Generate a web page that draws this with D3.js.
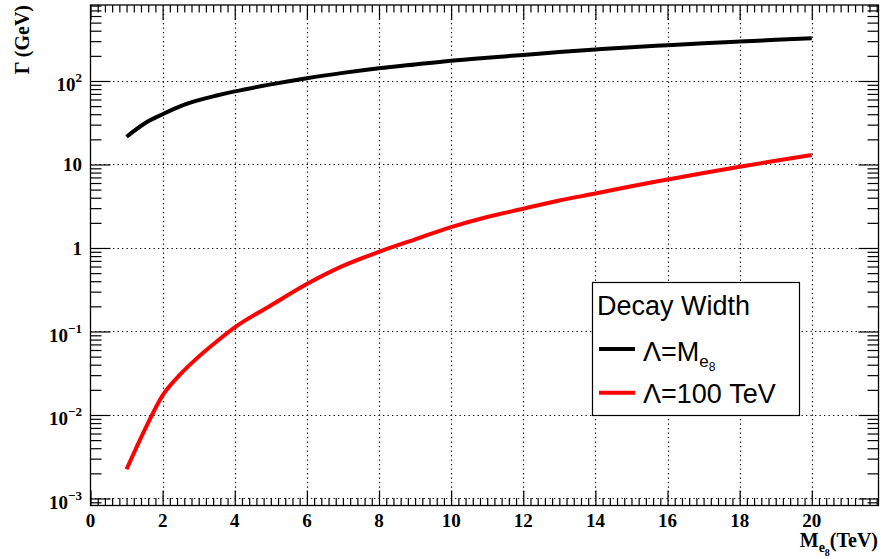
<!DOCTYPE html>
<html><head><meta charset="utf-8">
<script src="https://cdn.jsdelivr.net/npm/d3@7"></script>
<style>body{margin:0;background:#fff;} svg{display:block}</style>
</head><body>
<script>
// ---- data ----
const massTeV        = [1, 1.5, 2, 2.5, 3, 3.5, 4, 5, 6, 7, 8, 9, 10, 11, 12, 13, 14, 15, 16, 17, 18, 19, 20];
const widthLambdaM   = [21.5, 31, 40, 50, 59, 67, 75, 91, 108, 125, 142, 158, 175, 190, 205, 222, 238, 254, 268, 283, 297, 311, 324];
const widthLambda100 = [0.00224, 0.0066, 0.0172, 0.031, 0.050, 0.076, 0.112, 0.205, 0.37, 0.61, 0.90, 1.27, 1.78, 2.35, 2.95, 3.7, 4.5, 5.5, 6.6, 7.9, 9.4, 11.1, 13.0];
const seriesColors   = ["#000000", "#ff0000"];
const xMajorTicks = [0, 2, 4, 6, 8, 10, 12, 14, 16, 18, 20];
const xTickLabels = ["0", "2", "4", "6", "8", "10", "12", "14", "16", "18", "20"];
const yMajorTicks = [1e-3, 1e-2, 1e-1, 1, 10, 100];
const yTickBase   = ["10", "10", "10", "1", "10", "10"];
const yTickExp    = ["\u22123", "\u22122", "\u22121", "", "", "2"];
const legendTitle = "Decay Width";

// ---- layout ----
const W = 881, H = 559;
const L = 90.5, R = 878.5, T = 5, B = 505.5;
const svg = d3.select("body").append("svg").attr("width", W).attr("height", H);
svg.append("rect").attr("width", W).attr("height", H).attr("fill", "#fff");

const x = d3.scaleLinear().domain([0, 21.85]).range([L, R]);
const y = d3.scaleLog().domain([Math.pow(10, -3.084), Math.pow(10, 2.910)]).range([B, T]);

const xMinor = d3.range(0, 21.85, 0.2).filter(v => Math.abs(v / 2 - Math.round(v / 2)) > 1e-6);
const yMinor = [];
for (let e = -4; e <= 2; e++) for (let k = 2; k <= 9; k++) {
  const v = k * Math.pow(10, e);
  if (v >= y.domain()[0] && v <= y.domain()[1]) yMinor.push(v);
}

// ---- grid ----
const grid = svg.append("g").attr("stroke", "#000").attr("stroke-width", 1.2).attr("stroke-dasharray", "1.3,3.2");
grid.selectAll("line.gx").data(xMajorTicks.filter(v => v > 0)).join("line")
  .attr("x1", d => Math.round(x(d)) + 0.5).attr("x2", d => Math.round(x(d)) + 0.5)
  .attr("y1", T).attr("y2", B);
grid.selectAll("line.gy").data(yMajorTicks).join("line")
  .attr("y1", d => Math.round(y(d)) + 0.5).attr("y2", d => Math.round(y(d)) + 0.5)
  .attr("x1", L).attr("x2", R);

// ---- axes ticks (d3 axes, inward) ----
function tickAxis(axis, tx, ty) {
  const g = svg.append("g").attr("transform", `translate(${tx},${ty})`).call(axis);
  g.select(".domain").remove();
  g.selectAll("text").remove();
  g.selectAll("line").attr("stroke", "#000").attr("stroke-width", 1.2);
}
tickAxis(d3.axisTop(x).tickValues(xMajorTicks).tickSize(15).tickFormat(""), 0, B);
tickAxis(d3.axisTop(x).tickValues(xMinor).tickSize(7.5).tickFormat(""), 0, B);
tickAxis(d3.axisBottom(x).tickValues(xMajorTicks).tickSize(15).tickFormat(""), 0, T);
tickAxis(d3.axisBottom(x).tickValues(xMinor).tickSize(7.5).tickFormat(""), 0, T);
tickAxis(d3.axisRight(y).tickValues(yMajorTicks).tickSize(20).tickFormat(""), L, 0);
tickAxis(d3.axisRight(y).tickValues(yMinor).tickSize(11).tickFormat(""), L, 0);
tickAxis(d3.axisLeft(y).tickValues(yMajorTicks).tickSize(20).tickFormat(""), R, 0);
tickAxis(d3.axisLeft(y).tickValues(yMinor).tickSize(11).tickFormat(""), R, 0);

// ---- frame ----
svg.append("rect").attr("x", L).attr("y", T).attr("width", R - L).attr("height", B - T)
  .attr("fill", "none").attr("stroke", "#000").attr("stroke-width", 1.3);

// ---- curves ----
const line = d3.line().x(d => x(d[0])).y(d => y(d[1])).curve(d3.curveMonotoneX);
[widthLambdaM, widthLambda100].forEach((vals, i) => {
  svg.append("path").datum(massTeV.map((m, j) => [m, vals[j]]))
    .attr("d", line).attr("fill", "none").attr("stroke", seriesColors[i])
    .attr("stroke-width", 4).attr("stroke-linejoin", "round");
});

// ---- tick labels ----
const serif = "'Liberation Serif', 'Times New Roman', serif";
svg.append("g").selectAll("text").data(xMajorTicks).join("text")
  .attr("x", d => x(d)).attr("y", 527).attr("text-anchor", "middle")
  .attr("font-family", serif).attr("font-weight", "bold").attr("font-size", 19)
  .text((d, i) => xTickLabels[i]);

const yl = svg.append("g").selectAll("text").data(yMajorTicks).join("text")
  .attr("x", 82).attr("y", (d, i) => y(d) + (yTickExp[i] ? 10.5 : 7))
  .attr("text-anchor", "end")
  .attr("font-family", serif).attr("font-weight", "bold").attr("font-size", 19);
yl.each(function (d, i) {
  const t = d3.select(this);
  t.append("tspan").text(yTickBase[i]);
  if (yTickExp[i]) t.append("tspan").attr("dy", -9).attr("font-size", 13).text(yTickExp[i]);
});

// ---- axis titles ----
const xt = svg.append("text").attr("x", 878).attr("y", 547).attr("text-anchor", "end")
  .attr("font-family", serif).attr("font-weight", "bold").attr("font-size", 20);
xt.append("tspan").text("M");
xt.append("tspan").attr("dy", 5).attr("font-size", 14).text("e");
xt.append("tspan").attr("dy", 4).attr("font-size", 10).text("8");
xt.append("tspan").attr("dy", -9).attr("font-size", 20).text("(TeV)");

svg.append("text").attr("transform", "translate(29,5) rotate(-90)").attr("text-anchor", "end")
  .attr("font-family", serif).attr("font-weight", "bold").attr("font-size", 20)
  .text("\u0393 (GeV)");

// ---- legend ----
const sans = "'Liberation Sans', Arial, Helvetica, sans-serif";
const lg = svg.append("g");
lg.append("rect").attr("x", 592.5).attr("y", 282.5).attr("width", 207).attr("height", 133)
  .attr("fill", "#fff").attr("stroke", "#000").attr("stroke-width", 1.2);
lg.append("text").attr("x", 597).attr("y", 315).attr("font-family", sans).attr("font-size", 27)
  .text(legendTitle);
const entryY = [349, 392.7];
entryY.forEach((ly, i) => {
  lg.append("line").attr("x1", 599).attr("x2", 635).attr("y1", ly).attr("y2", ly)
    .attr("stroke", seriesColors[i]).attr("stroke-width", 4);
});
const e1 = lg.append("text").attr("x", 643).attr("y", 360.5).attr("font-family", sans).attr("font-size", 27);
e1.append("tspan").text("\u039B=M");
e1.append("tspan").attr("dy", 6).attr("font-size", 17).text("e");
e1.append("tspan").attr("dy", 4).attr("font-size", 12).text("8");
lg.append("text").attr("x", 643).attr("y", 403).attr("font-family", sans).attr("font-size", 27)
  .text("\u039B=100 TeV");
</script>
</body></html>
